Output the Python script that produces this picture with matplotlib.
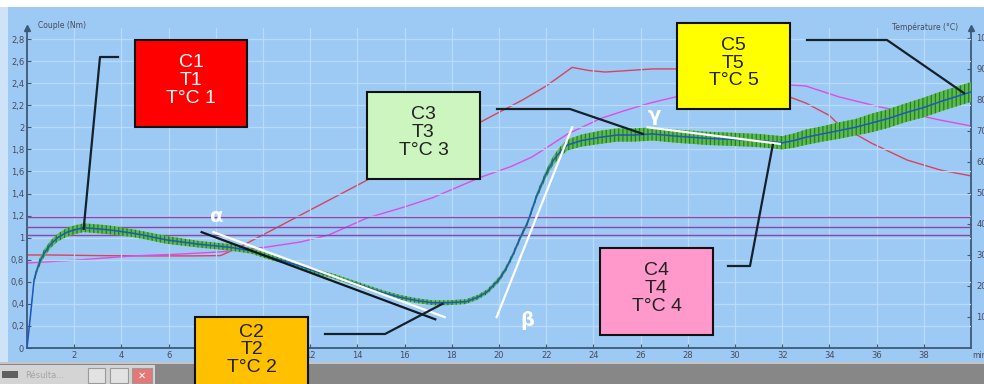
import matplotlib
matplotlib.use("Agg")
import matplotlib.pyplot as plt
from matplotlib.patches import Rectangle
from matplotlib.lines import Line2D

W, H = 984, 384

# torque curve (Nm) vs time (min)
t_torque = [0, 0.15, 0.3, 0.5, 0.7, 1.0, 1.3, 1.7, 2.0, 2.4, 3.0, 3.5, 4.5, 5.0, 5.9,
            7.3, 8.7, 9.5, 10.2, 11.0, 11.6, 12.3, 13.0, 14.4, 15.1, 15.8, 16.5, 17.2,
            17.8, 18.6, 19.1, 19.5, 20.0, 20.3, 20.6, 20.9, 21.2, 21.6, 22.0, 22.3,
            22.6, 22.9, 23.5, 24.3, 25.0, 25.7, 26.5, 27.5, 28.8, 30.0, 31.0, 32.0,
            32.5, 33.0, 33.7, 34.4, 35.1, 35.8, 36.5, 37.2, 38.0, 38.8, 39.4, 40.0]
torque = [0.0, 0.3, 0.62, 0.76, 0.85, 0.94, 1.0, 1.05, 1.07, 1.09, 1.08, 1.07, 1.04,
          1.02, 0.98, 0.94, 0.91, 0.88, 0.83, 0.78, 0.74, 0.69, 0.65, 0.55, 0.5, 0.46,
          0.43, 0.41, 0.41, 0.42, 0.46, 0.51, 0.62, 0.72, 0.85, 1.0, 1.13, 1.38, 1.58,
          1.7, 1.78, 1.84, 1.88, 1.91, 1.93, 1.93, 1.94, 1.92, 1.9, 1.89, 1.88, 1.86,
          1.88, 1.91, 1.94, 1.97, 2.0, 2.04, 2.08, 2.13, 2.18, 2.24, 2.28, 2.32]
# half width of the noisy raw signal around the smoothed curve
noise = [0.02, 0.02, 0.03, 0.035, 0.035, 0.035, 0.035, 0.04, 0.04, 0.04, 0.04,
         0.04, 0.035, 0.035, 0.035, 0.03, 0.03, 0.025, 0.025, 0.022, 0.022, 0.022,
         0.022, 0.022, 0.022, 0.022, 0.022, 0.022, 0.022, 0.022, 0.022, 0.022, 0.025,
         0.025, 0.025, 0.025, 0.025, 0.03, 0.035, 0.04, 0.045, 0.05, 0.055, 0.06, 0.06,
         0.06, 0.06, 0.06, 0.06, 0.06, 0.06, 0.06, 0.065, 0.07, 0.07, 0.075, 0.075,
         0.085, 0.085, 0.085, 0.09, 0.09, 0.09, 0.09]

# bowl temperature (red) and dough temperature (magenta), degC
t_bowl = [0, 1, 3, 5, 7, 8.2, 9, 10, 11, 12, 13, 14, 15, 16, 17, 18, 19, 20, 21, 22,
          23.1, 23.8, 24.5, 25.5, 26.5, 27.5, 28.5, 29.5, 30.5, 31.5, 32.3, 33, 34,
          34.4, 35.8, 37.3, 38.7, 40]
temp_bowl = [30, 30, 29.8, 29.7, 29.7, 29.8, 32.5, 36.5, 40.5, 44.5, 48.5, 52.5, 56.5,
             60.5, 64.5, 68.5, 72, 76, 80, 84.5, 90.5, 89.5, 89, 89.5, 90, 90, 90, 89,
             87, 84, 81, 79, 75, 72, 66, 60.6, 57.4, 55.5]
t_dough = [0, 2, 4.5, 6.5, 8.2, 10.2, 11.6, 12.8, 14.4, 16, 17.2, 19.2, 20.5, 21.4,
           22.2, 22.9, 24.3, 25.3, 26.4, 27.5, 29, 30.5, 32, 33, 34.4, 36, 37.3, 38.7, 40]
temp_dough = [27.4, 28.3, 29.7, 30.3, 31, 32.6, 34.2, 36.5, 41.9, 45.5, 48.5, 55, 58.5,
              61.6, 65.5, 69, 74, 76.5, 79, 81, 83, 84.5, 85, 84.5, 81, 78, 75.8, 73.5,
              71.6]

# reference torque levels
levels = [1.02, 1.10, 1.185]

# tangents (time, torque)
alpha_black = ([7.4, 17.3], [1.05, 0.26])
alpha_white = ([7.9, 17.7], [1.05, 0.28])
beta_white = ([19.9, 23.1], [0.28, 2.0])
gamma_white = ([26.3, 31.9], [2.0, 1.85])

# call-out boxes: label, box (x0, y0, x1, y1 in pixels from top-left), colours,
# leader elbow (pixels), anchor on the torque curve (time, torque)
boxes = [
    ("C1\nT1\nT°C 1", (135, 40, 247, 127), "#ff0000", "white", [(118, 57), (100, 57)], (2.4, 1.08)),
    ("C2\nT2\nT°C 2", (195, 317, 308, 392), "#ffc000", "#222222", [(325, 334), (385, 334)], (17.6, 0.40)),
    ("C3\nT3\nT°C 3", (367, 92, 480, 179), "#ccf5bf", "#222222", [(497, 109), (570, 109)], (26.1, 1.94)),
    ("C4\nT4\nT°C 4", (600, 248, 713, 335), "#ff99cc", "#222222", [(728, 266), (750, 266)], (31.6, 1.84)),
    ("C5\nT5\nT°C 5", (677, 23, 790, 109), "#ffff00", "#222222", [(807, 40), (887, 40)], (39.7, 2.31)),
]


def fx(x):
    return x / W


def fy(y):
    return 1 - y / H


fig = plt.figure(figsize=(W / 100, H / 100), dpi=100)
fig.patch.set_facecolor("#9ccaf4")

ax = fig.add_axes([fx(27), fy(348), (971 - 27) / W, 320 / H])
ax2 = ax.twinx()
ax.set_zorder(2)
ax.patch.set_visible(False)
ax2.patch.set_visible(False)

axis_col = "#3d5a75"
lab_col = "#4a4a5a"

ax.set_xlim(0, 40)
ax.set_ylim(0, 2.9)
ax2.set_ylim(0, 103.2)

ax.grid(True, color="#b9dafa", lw=0.9)
ax.set_axisbelow(True)

# temperatures
ax2.plot(t_bowl, temp_bowl, color="#d9435c", lw=1.0)
ax2.plot(t_dough, temp_dough, color="#e04be6", lw=1.0)

for lv in levels:
    ax.axhline(lv, color="#8e44a8", lw=1.0, zorder=3)

# torque: noisy raw band + smoothed line
lo = [v - n for v, n in zip(torque, noise)]
hi = [v + n for v, n in zip(torque, noise)]
plt.rcParams["hatch.linewidth"] = 0.9
ax.fill_between(t_torque, lo, hi, facecolor="#5dbb4a", edgecolor="#21802a",
                hatch="||||", linewidth=0, zorder=4)
ax.plot(t_torque, torque, color="#1f55c8", lw=1.1, zorder=5)

# tangents
ax.plot(*alpha_black, color="#101820", lw=1.6, zorder=6)
ax.plot(*alpha_white, color="white", lw=1.6, zorder=6)
ax.plot(*beta_white, color="white", lw=1.6, zorder=6)
ax.plot(*gamma_white, color="white", lw=1.6, zorder=6)

for sym, (tx, ty) in [("α", (8.05, 1.19)), ("β", (21.2, 0.25)), ("γ", (26.6, 2.11))]:
    ax.text(tx, ty, sym, color="white", fontsize=14, fontweight="bold",
            ha="center", va="center", zorder=7)

# axes styling
for s in ["top", "right"]:
    ax.spines[s].set_visible(False)
for s in ["top", "left", "bottom"]:
    ax2.spines[s].set_visible(False)
for sp in [ax.spines["left"], ax.spines["bottom"], ax2.spines["right"]]:
    sp.set_color(axis_col)
    sp.set_linewidth(1.3)

ax.set_xticks(range(2, 40, 2))
ax.set_xticklabels([str(v) for v in range(2, 40, 2)])
yt = [i * 0.2 for i in range(15)]
ax.set_yticks(yt)
ax.set_yticklabels([("%.1f" % v).replace(".", ",") if i % 5 else str(int(round(v)))
                    for i, v in enumerate(yt)])
ax2.set_yticks(range(10, 101, 10))
ax2.set_yticklabels([str(v) for v in range(10, 101, 10)])
ax.tick_params(axis="both", direction="in", length=3, width=0.8, colors=axis_col,
               labelcolor=lab_col, labelsize=6, pad=2)
ax2.tick_params(axis="y", direction="in", length=3, width=0.8, colors=axis_col,
                labelcolor=lab_col, labelsize=6, pad=4)

ax.plot([0], [1], marker="^", ms=4, color=axis_col, transform=ax.transAxes, clip_on=False)
ax.plot([1], [1], marker="^", ms=4, color=axis_col, transform=ax.transAxes, clip_on=False)

fig.text(fx(38), fy(26), "Couple (Nm)", fontsize=5.5, color=lab_col, va="center")
fig.text(fx(958), fy(27), "Température (°C)", fontsize=5.5, color=lab_col,
         va="center", ha="right")
fig.text(fx(972), fy(356), "min", fontsize=5.5, color=lab_col, va="center")

# white border strips of the screenshot
fig.add_artist(Rectangle((0, fy(7)), 1, 7 / H, transform=fig.transFigure,
                         fc="white", ec="none", zorder=0.5))
fig.add_artist(Rectangle((0, fy(362)), fx(8), 355 / H, transform=fig.transFigure,
                         fc="#cfe3f8", ec="none", zorder=0.5))

# bottom task bar
fig.add_artist(Rectangle((0, 0), 1, 22 / H, transform=fig.transFigure,
                         fc="#878787", ec="none", zorder=1))
fig.add_artist(Rectangle((0, fy(364)), 1, 2 / H, transform=fig.transFigure,
                         fc="#c4c4c4", ec="none", zorder=1))
fig.add_artist(Rectangle((0, 0), fx(155), 19 / H, transform=fig.transFigure,
                         fc="#d4d4d4", ec="none", zorder=1))
fig.add_artist(Rectangle((fx(2), fy(378)), fx(16), 7 / H, transform=fig.transFigure,
                         fc="#606060", ec="none", zorder=1))
fig.text(fx(25), fy(375), "Résulta...", fontsize=6, color="#a5a5a5", va="center")
for bx0, bx1, bcol in [(88, 105, "#e2e2e2"), (110, 128, "#e2e2e2"), (132, 152, "#e57777")]:
    fig.add_artist(Rectangle((fx(bx0), fy(383)), (bx1 - bx0) / W, 15 / H,
                             transform=fig.transFigure, fc=bcol, ec="#9a9a9a",
                             lw=0.8, zorder=1))
fig.text(fx(142), fy(375.5), "✕", fontsize=7, color="white", ha="center", va="center")

# call-out boxes and leaders
to_fig = fig.transFigure.inverted()
for label, (x0, y0, x1, y1), fc, tc, elbow, anchor in boxes:
    fig.add_artist(Rectangle((fx(x0), fy(y1)), (x1 - x0) / W, (y1 - y0) / H,
                             transform=fig.transFigure, fc=fc, ec="#111111",
                             lw=1.5, zorder=3))
    fig.text(fx((x0 + x1) / 2), fy((y0 + min(y1, 389)) / 2 - 3), label,
             ha="center", va="center", fontsize=14, color=tc,
             family="Liberation Sans", linespacing=1.05, zorder=4)
    ex, ey = to_fig.transform(ax.transData.transform(anchor))
    xs = [fx(p[0]) for p in elbow] + [ex]
    ys = [fy(p[1]) for p in elbow] + [ey]
    fig.add_artist(Line2D(xs, ys, transform=fig.transFigure, color="#15202b",
                          lw=1.6, zorder=3))

fig.savefig("out.png", dpi=100, facecolor=fig.get_facecolor())
